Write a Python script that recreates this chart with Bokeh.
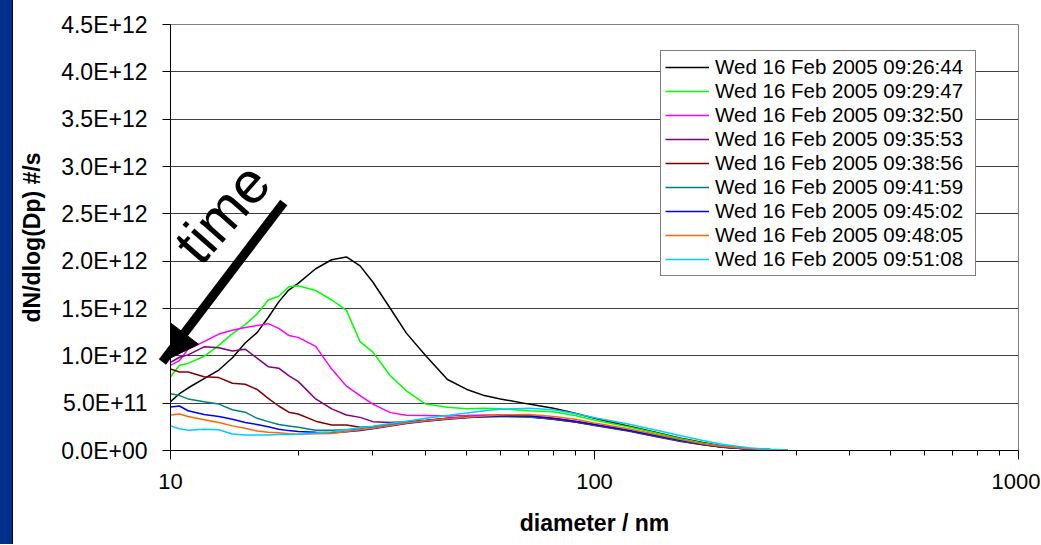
from bokeh.plotting import figure
from bokeh.models import (Range1d, FixedTicker, Legend, LegendItem, Arrow,
                          NormalHead, Label, Spacer)
from bokeh.layouts import row
from bokeh.embed import file_html
from bokeh.resources import INLINE

# ---------------- data ----------------
UNIT = 1e11  # series values below are in units of 1e11 (#/s)

diameter_nm = [10, 10.5, 11, 12, 13, 14, 15, 16, 17, 18, 19, 20, 22, 24, 26, 28,
               30, 33, 36, 40, 45, 50, 55, 60, 70, 80, 90, 100, 120, 140, 160,
               180, 200, 230, 260, 285]

t_092644 = [5.16, 6.0, 6.6, 7.6, 8.5, 9.8, 11.35, 12.45, 14.05, 15.7, 16.95, 17.65,
            19.2, 20.15, 20.45, 19.5, 17.8, 15.0, 12.4, 10.0, 7.5, 6.45, 5.8, 5.45,
            4.9, 4.46, 3.93, 3.4, 2.59, 1.9, 1.29, 0.85, 0.48, 0.22, 0.1, 0.05]
t_092947 = [7.8, 9.0, 9.2, 9.95, 11.1, 12.35, 13.3, 14.4, 15.9, 16.3, 17.3, 17.4,
            16.9, 15.9, 14.8, 11.5, 10.4, 7.9, 6.3, 4.9, 4.57, 4.4, 4.45, 4.4,
            4.2, 4.1, 3.7, 3.2, 2.5, 1.85, 1.25, 0.8, 0.45, 0.2, 0.1, 0.05]
t_093250 = [9.0, 9.5, 10.7, 11.5, 12.3, 12.7, 13.0, 13.2, 13.4, 12.9, 12.15, 11.95,
            11.0, 8.6, 6.8, 5.8, 4.9, 4.0, 3.72, 3.7, 3.65, 3.7, 3.75, 3.75,
            3.7, 3.4, 3.1, 2.75, 2.15, 1.55, 1.05, 0.65, 0.4, 0.18, 0.08, 0.04]
t_093553 = [9.3, 9.85, 10.1, 10.95, 10.85, 10.5, 10.7, 9.75, 8.85, 8.7, 7.9, 7.3,
            5.45, 4.4, 3.75, 3.5, 3.05, 2.95, 3.05, 3.2, 3.4, 3.55, 3.65, 3.7,
            3.6, 3.3, 3.0, 2.65, 2.05, 1.45, 0.95, 0.6, 0.35, 0.15, 0.07, 0.03]
t_093856 = [8.6, 8.3, 8.3, 7.8, 7.7, 7.1, 7.0, 6.45, 5.5, 4.7, 4.05, 3.85,
            3.1, 2.7, 2.7, 2.45, 2.5, 2.7, 2.95, 3.15, 3.4, 3.5, 3.6, 3.6,
            3.55, 3.3, 3.0, 2.7, 2.1, 1.5, 1.0, 0.62, 0.36, 0.16, 0.07, 0.03]
t_094159 = [6.0, 5.8, 5.45, 5.15, 4.9, 4.3, 4.05, 3.4, 3.05, 2.75, 2.6, 2.45,
            2.15, 2.15, 2.2, 2.3, 2.5, 2.75, 2.95, 3.15, 3.35, 3.5, 3.55, 3.6,
            3.55, 3.35, 3.05, 2.7, 2.1, 1.5, 1.0, 0.62, 0.36, 0.16, 0.07, 0.03]
t_094502 = [4.6, 4.7, 4.2, 3.8, 3.6, 3.3, 2.95, 2.75, 2.5, 2.25, 2.1, 2.0,
            1.92, 1.88, 1.98, 2.1, 2.3, 2.6, 2.85, 3.1, 3.3, 3.45, 3.6, 3.65,
            3.65, 3.4, 3.1, 2.75, 2.15, 1.55, 1.05, 0.65, 0.38, 0.17, 0.08, 0.03]
t_094805 = [3.75, 3.85, 3.6, 3.25, 2.95, 2.6, 2.35, 2.05, 1.92, 1.88, 1.78, 1.72,
            1.78, 1.8, 2.0, 2.2, 2.35, 2.65, 2.9, 3.15, 3.35, 3.5, 3.65, 3.75,
            3.8, 3.6, 3.3, 2.9, 2.3, 1.7, 1.15, 0.72, 0.42, 0.19, 0.08, 0.03]
t_095108 = [2.6, 2.3, 2.15, 2.25, 2.2, 1.75, 1.65, 1.64, 1.65, 1.68, 1.7, 1.72,
            1.85, 1.95, 2.2, 2.4, 2.55, 2.85, 3.1, 3.4, 3.7, 3.95, 4.2, 4.35,
            4.45, 4.3, 3.9, 3.45, 2.8, 2.15, 1.55, 1.05, 0.65, 0.3, 0.12, 0.05]

series_labels = ["Wed 16 Feb 2005 09:26:44", "Wed 16 Feb 2005 09:29:47",
                 "Wed 16 Feb 2005 09:32:50", "Wed 16 Feb 2005 09:35:53",
                 "Wed 16 Feb 2005 09:38:56", "Wed 16 Feb 2005 09:41:59",
                 "Wed 16 Feb 2005 09:45:02", "Wed 16 Feb 2005 09:48:05",
                 "Wed 16 Feb 2005 09:51:08"]
series_values = [t_092644, t_092947, t_093250, t_093553, t_093856,
                 t_094159, t_094502, t_094805, t_095108]
series_colors = ["#000000", "#00FF00", "#FF00FF", "#800080", "#800000",
                 "#008080", "#0000FF", "#FF6600", "#00CCFF"]

y_ticks = [0, 5e11, 1e12, 1.5e12, 2e12, 2.5e12, 3e12, 3.5e12, 4e12, 4.5e12]
y_tick_labels = ["0.0E+00", "5.0E+11", "1.0E+12", "1.5E+12", "2.0E+12",
                 "2.5E+12", "3.0E+12", "3.5E+12", "4.0E+12", "4.5E+12"]
x_ticks = [10, 100, 1000]
x_tick_labels = ["10", "100", "1000"]
x_minor_ticks = [20, 30, 40, 50, 60, 70, 80, 90, 200, 300, 400, 500, 600, 700, 800, 900]

# annotation anchors (data coordinates)
ARROW_FROM = (18.5, 2.62e12)
ARROW_TO = (9.57, 9.35e11)
TIME_POS = (13.2, 2.51e12)

FONT = "Liberation Sans"
H = 544

# ---------------- figure ----------------
p = figure(width=1027, height=H, x_axis_type="log",
           x_range=Range1d(10, 1000), y_range=Range1d(0, 4.5e12),
           output_backend="svg", toolbar_location=None,
           min_border_left=157, min_border_right=22,
           min_border_top=24, min_border_bottom=94,
           background_fill_color="white", border_fill_color="white",
           outline_line_color="#808080")

items = []
for lab, vals, col in zip(series_labels, series_values, series_colors):
    r = p.line(diameter_nm, [v * UNIT for v in vals], line_color=col, line_width=1.5)
    items.append(LegendItem(label=lab, renderers=[r]))

# axes
p.xaxis.ticker = FixedTicker(ticks=x_ticks, minor_ticks=x_minor_ticks)
p.xaxis.major_label_overrides = dict(zip(x_ticks, x_tick_labels))
p.yaxis.ticker = FixedTicker(ticks=y_ticks)
p.yaxis.major_label_overrides = dict(zip(y_ticks, y_tick_labels))

for ax in (p.xaxis[0], p.yaxis[0]):
    ax.axis_line_color = "black"
    ax.axis_line_width = 1
    ax.major_tick_line_color = "black"
    ax.minor_tick_line_color = "black"
    ax.major_tick_in = 0
    ax.minor_tick_in = 0
    ax.major_label_text_font = FONT
    ax.major_label_text_color = "black"
    ax.axis_label_text_font = FONT
    ax.axis_label_text_font_style = "bold"
    ax.axis_label_text_color = "black"
    ax.axis_label_text_font_size = "23px"

p.xaxis.major_tick_out = 9
p.xaxis.minor_tick_out = 5
p.xaxis.major_label_text_font_size = "22px"
p.xaxis.major_label_standoff = 14
p.xaxis.axis_label = "diameter / nm"
p.xaxis.axis_label_standoff = 18

p.yaxis.major_tick_out = 8
p.yaxis.minor_tick_out = 0
p.yaxis.major_label_text_font_size = "23px"
p.yaxis.major_label_standoff = 15
p.yaxis.axis_label = "dN/dlog(Dp) #/s"
p.yaxis.axis_label_standoff = 13

p.xgrid.visible = False
p.ygrid.grid_line_color = "#404040"
p.ygrid.grid_line_width = 1

# arrow + "time"
p.add_layout(Arrow(end=NormalHead(size=36, fill_color="black", line_color="black", line_width=1),
                   x_start=ARROW_FROM[0], y_start=ARROW_FROM[1],
                   x_end=ARROW_TO[0], y_end=ARROW_TO[1],
                   line_color="black", line_width=9))
p.add_layout(Label(x=TIME_POS[0], y=TIME_POS[1], text="time", angle=0.85,
                   text_font=FONT, text_font_size="58px", text_color="black",
                   text_align="center", text_baseline="middle"))

legend = Legend(items=items, location=(490, 174),
                label_text_font=FONT, label_text_font_size="20.5px",
                label_text_color="black",
                glyph_width=44, glyph_height=24, label_height=24, label_width=256,
                label_standoff=6, spacing=0, padding=4, margin=0,
                border_line_color="black", border_line_width=1,
                background_fill_color="white", background_fill_alpha=1)
p.add_layout(legend)

# left navy strip with a thin black edge
strip = Spacer(width=13, height=H,
               styles={"background-color": "#003087",
                       "border-right": "1px solid #000000",
                       "box-sizing": "border-box"})

layout = row(strip, p, spacing=0)

open("out.html", "w").write(file_html(layout, INLINE))
